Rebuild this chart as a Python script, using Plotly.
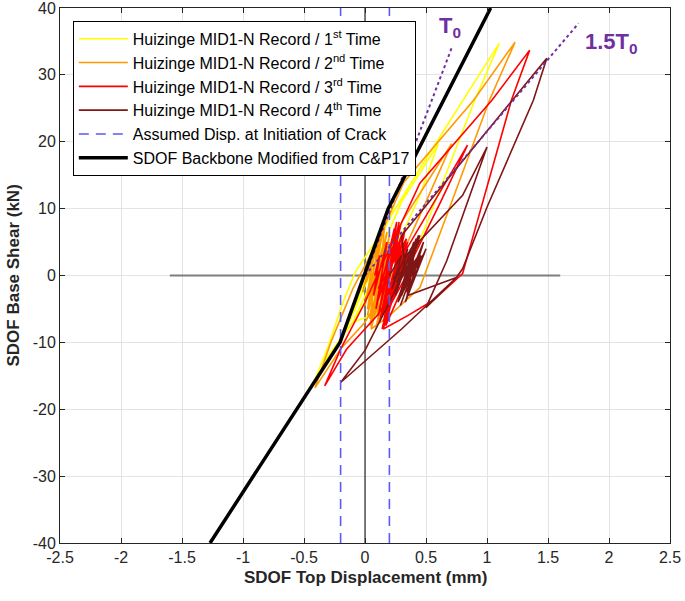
import plotly.graph_objects as go

# ---------------- data ----------------
# Huizinge MID1-N record, 1st time (yellow)
Y_x = [0.00, 0.04, -0.03, 0.08, -0.06, 0.13, -0.10, 0.18, -0.15, 0.24, -0.20, 0.30, 0.60, 0.45, 0.20, -0.10, -0.30, -0.43, -0.30, -0.18, -0.08, 0.10, 0.45, 0.90, 1.10, 0.90, 0.45, 0.25, 0.05, -0.10, 0.10, 0.28, 0.05, 0.20, 0.10]
Y_y = [0.0, 2.0, -1.5, 4.0, -3.0, 6.0, -5.0, 8.0, -7.5, 10.5, -10.0, 11.0, 19.7, 12.0, 2.0, -7.0, -12.0, -16.5, -10.5, -4.0, 0.5, 5.5, 16.0, 29.0, 34.7, 26.2, 5.2, -2.0, -6.0, -7.0, 1.0, 6.0, -2.0, 3.0, 0.5]

# 2nd time (orange)
O_x = [0.00, 0.06, -0.02, 0.10, 0.00, 0.15, 0.02, 0.18, 0.04, 0.20, 0.05, 0.22, 0.08, 0.12, 0.02, 0.17, 0.06, 0.21, 0.09, 0.19, 0.03, 0.14, 0.07, 0.24, 0.10, 0.16, 0.01, 0.13, 0.04, 0.20, 0.08, 0.23, 0.11, 0.30, 0.71, 0.50, 0.25, 0.00, -0.20, -0.41, -0.28, -0.10, 0.10, 0.32, 0.89, 1.23, 1.02, 0.45, 0.20, 0.05, 0.15, 0.02, 0.18, 0.06, 0.20, 0.10, 0.16, 0.12]
O_y = [0.0, 3.0, -2.5, 5.5, -4.5, 7.0, -6.0, 6.5, -7.5, 5.0, -8.0, 4.0, -6.0, 6.0, -5.0, 5.0, -7.0, 3.0, -8.0, 2.0, -4.0, 4.0, -3.0, 5.0, -6.0, 7.5, -1.0, 6.5, -6.5, 6.0, -5.5, 3.5, -7.0, 8.0, 19.7, 11.0, 1.0, -7.0, -11.0, -16.8, -10.0, -2.0, 5.0, 14.0, 26.2, 34.9, 26.2, -1.8, -6.0, -8.0, 2.0, -5.0, 4.0, -3.0, 3.0, -1.0, 1.0, 0.0]

# 3rd time (red)
R_x = [0.08, 0.12, 0.07, 0.18, 0.09, 0.24, 0.11, 0.28, 0.12, 0.32, 0.14, 0.35, 0.16, 0.26, 0.10, 0.30, 0.15, 0.38, 0.18, 0.33, 0.12, 0.27, 0.20, 0.36, 0.13, 0.29, 0.11, 0.34, 0.17, 0.40, 0.22, 0.31, 0.84, 0.62, 0.35, 0.10, -0.15, -0.33, -0.20, 0.00, 0.20, 0.45, 1.04, 1.35, 1.20, 0.80, 0.56, 0.35, 0.15, 0.30, 0.18, 0.33, 0.20, 0.35, 0.25, 0.30]
R_y = [0.0, 3.0, -3.0, 5.0, -5.0, 7.0, -6.0, 8.0, -7.0, 6.0, -8.0, 5.0, -5.0, 8.0, -4.0, 6.0, -7.0, 4.0, -6.0, 7.0, -3.0, 5.0, -5.0, 3.0, -6.5, 7.5, -2.0, 5.5, -7.5, 2.0, -4.0, 3.0, 19.5, 11.0, 1.0, -6.0, -11.0, -16.5, -11.0, -4.0, 4.0, 13.8, 26.2, 33.7, 26.2, 0.3, -3.7, -6.0, -8.0, 3.0, -4.0, 5.0, -2.0, 3.0, -1.0, 0.5]

# 4th time (dark red)
D_x = [0.20, 0.30, 0.22, 0.35, 0.25, 0.40, 0.28, 0.45, 0.30, 0.48, 0.33, 0.50, 0.36, 0.42, 0.24, 0.38, 0.27, 0.46, 0.31, 0.44, 0.26, 0.40, 0.34, 0.47, 0.29, 0.43, 0.23, 0.41, 0.32, 0.49, 0.35, 0.30, 1.49, 1.38, 1.00, 0.80, 0.75, 0.50, 0.67, 1.00, 0.80, 0.45, 0.20, 0.00, -0.20, 0.30, 0.75, 0.50, 0.35, 0.45, 0.30, 0.42, 0.32, 0.38]
D_y = [0.0, 3.0, -2.0, 4.0, -3.0, 5.0, -3.5, 6.0, -3.0, 5.0, -4.0, 4.0, -2.0, 5.5, -2.5, 3.5, -4.0, 3.0, -1.5, 6.0, -1.0, 2.0, -3.5, 4.5, -4.5, 2.5, -0.5, 5.0, -2.0, 3.5, -3.0, 6.0, 32.5, 26.2, 10.2, 1.0, -0.3, -4.8, 2.2, 19.2, 12.0, 5.2, -4.0, -11.2, -16.0, -8.0, -0.3, -2.0, -3.0, 2.0, -2.0, 2.5, -1.0, 0.5]

# SDOF backbone
BB_x = [-1.27, -0.205, 0.19, 1.03]
BB_y = [-40.0, -10.0, 10.0, 40.0]

# assumed displacement at initiation of crack
CRACK_x = [-0.2, 0.2]
Y_LIM = [-40, 40]
X_LIM = [-2.5, 2.5]

# period lines
T0_x = [0.0, 0.71]
T0_y = [0.0, 34.0]
T15_x = [0.0, 1.75]
T15_y = [0.0, 37.7]

# zero line
ZERO_x = [-1.6, 1.6]

X_TICKS = [-2.5, -2, -1.5, -1, -0.5, 0, 0.5, 1, 1.5, 2, 2.5]
X_TICKTEXT = ["-2.5", "-2", "-1.5", "-1", "-0.5", "0", "0.5", "1", "1.5", "2", "2.5"]
Y_TICKS = [-40, -30, -20, -10, 0, 10, 20, 30, 40]
Y_TICKTEXT = ["-40", "-30", "-20", "-10", "0", "10", "20", "30", "40"]

NAMES = [
    "Huizinge MID1-N Record / 1<sup>st</sup> Time",
    "Huizinge MID1-N Record / 2<sup>nd</sup> Time",
    "Huizinge MID1-N Record / 3<sup>rd</sup> Time",
    "Huizinge MID1-N Record / 4<sup>th</sup> Time",
    "Assumed Disp. at Initiation of Crack",
    "SDOF Backbone Modified from C&P17",
]
X_TITLE = "SDOF Top Displacement (mm)"
Y_TITLE = "SDOF Base Shear (kN)"

FONT = "Arial, Liberation Sans, sans-serif"
PURPLE = "#7030A0"
TXT = "#262626"

fig = go.Figure()

# background helper lines
fig.add_trace(go.Scatter(x=ZERO_x, y=[0, 0], mode="lines",
                         line=dict(color="#7F7F7F", width=2), showlegend=False, hoverinfo="skip"))
fig.add_trace(go.Scatter(x=[0, 0], y=Y_LIM, mode="lines",
                         line=dict(color="#000000", width=1), showlegend=False, hoverinfo="skip"))

series = [(Y_x, Y_y, "#FFFF00"), (O_x, O_y, "#FF9900"), (R_x, R_y, "#FF0000"), (D_x, D_y, "#801515")]
for (xs, ys, col), nm in zip(series, NAMES[:4]):
    fig.add_trace(go.Scatter(x=xs, y=ys, mode="lines", name=nm,
                             line=dict(color=col, width=1.6)))

fig.add_trace(go.Scatter(
    x=[CRACK_x[0], CRACK_x[0], None, CRACK_x[1], CRACK_x[1]],
    y=[Y_LIM[0], Y_LIM[1], None, Y_LIM[0], Y_LIM[1]],
    mode="lines", name=NAMES[4],
    line=dict(color="#5B5BF5", width=1.6, dash="10px,7px")))

fig.add_trace(go.Scatter(x=T0_x, y=T0_y, mode="lines", showlegend=False,
                         line=dict(color=PURPLE, width=2, dash="dot")))
fig.add_trace(go.Scatter(x=T15_x, y=T15_y, mode="lines", showlegend=False,
                         line=dict(color=PURPLE, width=2, dash="dot")))

fig.add_trace(go.Scatter(x=BB_x, y=BB_y, mode="lines", name=NAMES[5],
                         line=dict(color="#000000", width=3.5)))

fig.add_annotation(x=0.70, y=37.1, text="<b>T<sub>0</sub></b>", showarrow=False,
                   font=dict(family=FONT, size=22, color=PURPLE))
fig.add_annotation(x=2.02, y=34.7, text="<b>1.5T<sub>0</sub></b>", showarrow=False,
                   font=dict(family=FONT, size=22, color=PURPLE))

# axis titles as paper-anchored texts
fig.add_annotation(xref="paper", yref="paper", x=0.5, y=-0.0654, xanchor="center", yanchor="middle",
                   text="<b>" + X_TITLE + "</b>", showarrow=False,
                   font=dict(family=FONT, size=17, color=TXT))
fig.add_annotation(xref="paper", yref="paper", x=-0.077, y=0.5, xanchor="center", yanchor="middle",
                   text="<b>" + Y_TITLE + "</b>", showarrow=False, textangle=-90,
                   font=dict(family=FONT, size=17, color=TXT))

axis_common = dict(showline=True, linecolor=TXT, linewidth=1, mirror="ticks",
                   ticks="inside", ticklen=5, tickcolor=TXT, automargin=False,
                   ticklabeloverflow="allow",
                   showgrid=True, gridcolor="#E3E3E3", gridwidth=1, zeroline=False,
                   tickfont=dict(family=FONT, size=16, color=TXT))

fig.update_xaxes(range=X_LIM, tickvals=X_TICKS, ticktext=X_TICKTEXT, **axis_common)
fig.update_yaxes(range=Y_LIM, tickvals=Y_TICKS, ticktext=Y_TICKTEXT, **axis_common)

fig.update_layout(
    width=685, height=601,
    margin=dict(l=60, r=15, t=8, b=58),
    paper_bgcolor="white", plot_bgcolor="white",
    font=dict(family=FONT, color="#000000"),
    legend=dict(x=0.021, y=0.976, xanchor="left", yanchor="top",
                bgcolor="white", bordercolor="#000000", borderwidth=1,
                font=dict(family=FONT, size=16, color="#000000"),
                itemwidth=49, tracegroupgap=0),
    showlegend=True,
)

fig.write_html("out.html", config={"displayModeBar": False},
               post_script="document.body.style.margin='0px';")
